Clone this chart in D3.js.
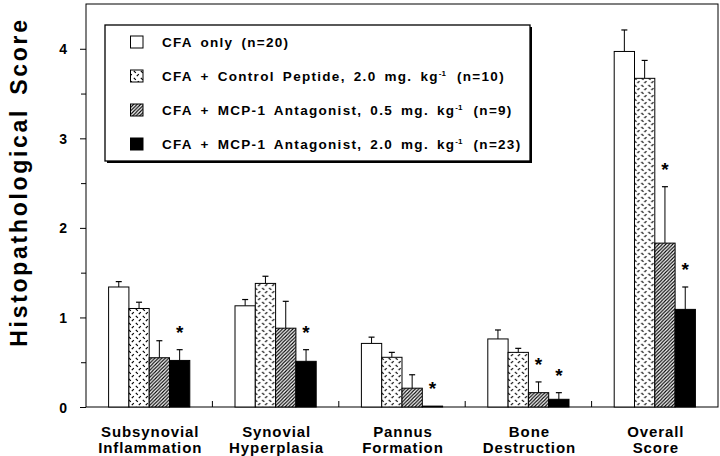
<!DOCTYPE html>
<html>
<head>
<meta charset="utf-8">
<script src="https://cdn.jsdelivr.net/npm/d3@7"></script>
<style>
  html, body { margin: 0; padding: 0; background: #fff; }
  svg { display: block; }
  text { font-family: "Liberation Sans", Arial, Helvetica, sans-serif; font-weight: bold; fill: #000; }
</style>
</head>
<body>
<svg id="chart" width="720" height="456"></svg>
<script>
// ---------- data ----------
const categories = ["Subsynovial|Inflammation", "Synovial|Hyperplasia", "Pannus|Formation", "Bone|Destruction", "Overall|Score"];
const seriesKeys = ["cfa", "control", "antag05", "antag20"];
const seriesLabels = [
  ["CFA only (n=20)", "", ""],
  ["CFA + Control Peptide, 2.0 mg. kg", "-1", " (n=10)"],
  ["CFA + MCP-1 Antagonist, 0.5 mg. kg", "-1", " (n=9)"],
  ["CFA + MCP-1 Antagonist, 2.0 mg. kg", "-1", " (n=23)"]
];
const cfaOnly        = [1.34, 1.13, 0.71, 0.76, 3.97];
const cfaOnlyErr     = [0.06, 0.07, 0.07, 0.10, 0.24];
const controlPeptide = [1.10, 1.38, 0.555, 0.61, 3.67];
const controlErr     = [0.07, 0.08, 0.055, 0.045, 0.20];
const antagonist05   = [0.55, 0.88, 0.21, 0.16, 1.83];
const antagonist05Err= [0.19, 0.30, 0.15, 0.12, 0.63];
const antagonist20   = [0.52, 0.51, 0.01, 0.086, 1.09];
const antagonist20Err= [0.12, 0.13, 0.00, 0.074, 0.25];
const significant05  = [false, false, false, true, true];
const significant20  = [true, true, true, true, true];
const yMajorTicks = [0, 1, 2, 3, 4];
const yMinorTicks = [0.5, 1.5, 2.5, 3.5];
const yTitle = "Histopathological Score";

const seriesValues = [cfaOnly, controlPeptide, antagonist05, antagonist20];
const seriesErrors = [cfaOnlyErr, controlErr, antagonist05Err, antagonist20Err];
const seriesSig = [null, null, significant05, significant20];

// ---------- layout ----------
const svg = d3.select("#chart");
const L = 86, R = 718, T = 4, B = 407;

const defs = svg.append("defs");
const pDash = defs.append("pattern").attr("id", "dash").attr("patternUnits", "userSpaceOnUse")
  .attr("width", 7).attr("height", 7);
pDash.append("rect").attr("width", 7).attr("height", 7).attr("fill", "#fff");
pDash.append("path").attr("d", "M0.8,0.8 L2.8,2.8 M3.8,6.2 L5.8,4.2")
  .attr("stroke", "#000").attr("stroke-width", 1.2).attr("fill", "none");

const pHatch = defs.append("pattern").attr("id", "hatch").attr("patternUnits", "userSpaceOnUse")
  .attr("width", 3.5).attr("height", 3.5);
pHatch.append("rect").attr("width", 3.5).attr("height", 3.5).attr("fill", "#fff");
pHatch.append("path").attr("d", "M-0.9,0.9 L0.9,-0.9 M0,3.5 L3.5,0 M2.6,4.4 L4.4,2.6")
  .attr("stroke", "#000").attr("stroke-width", 1.15).attr("fill", "none");

const fills = ["#fff", "url(#dash)", "url(#hatch)", "#000"];

const x0 = d3.scaleBand().domain(categories).range([L, R]).padding(0);
const x1 = d3.scaleBand().domain(seriesKeys).range([22.6, 103.8]).padding(0);
const y = d3.scaleLinear().domain([0, 4.5]).range([B, T]);

// frame
svg.append("rect").attr("x", L).attr("y", T).attr("width", R - L).attr("height", B - T)
  .attr("fill", "none").attr("stroke", "#000").attr("stroke-width", 1);

// y axis
const yAxis = svg.append("g").attr("transform", `translate(${L},0)`)
  .call(d3.axisLeft(y).tickValues(yMajorTicks).tickSize(6).tickPadding(13).tickFormat(d3.format("d")));
yAxis.select(".domain").remove();
yAxis.selectAll("text").style("font-size", "14px").attr("font-family", null).attr("dy", "0.36em");
yAxis.selectAll("line").attr("stroke", "#000");
const yMinor = svg.append("g").attr("transform", `translate(${L},0)`)
  .call(d3.axisLeft(y).tickValues(yMinorTicks).tickSize(5).tickFormat(""));
yMinor.select(".domain").remove();

// group separators on the x axis
svg.append("g").selectAll("line").data(categories.slice(1)).join("line")
  .attr("x1", d => x0(d)).attr("x2", d => x0(d))
  .attr("y1", B).attr("y2", B - 6).attr("stroke", "#000");

// bars
const groups = svg.append("g").selectAll("g").data(categories).join("g")
  .attr("transform", d => `translate(${x0(d)},0)`);

seriesKeys.forEach((k, si) => {
  const bw = x1.bandwidth();
  groups.each(function(cat, ci) {
    const g = d3.select(this);
    const v = seriesValues[si][ci], e = seriesErrors[si][ci];
    const bx = x1(k);
    const cx = bx + bw / 2;
    if (e > 0) {
      g.append("line").attr("x1", cx).attr("x2", cx).attr("y1", y(v)).attr("y2", y(v + e))
        .attr("stroke", "#000").attr("stroke-width", 1);
      g.append("line").attr("x1", cx - 3).attr("x2", cx + 3).attr("y1", y(v + e)).attr("y2", y(v + e))
        .attr("stroke", "#000").attr("stroke-width", 1.2);
    }
    g.append("rect").attr("x", bx).attr("y", y(v)).attr("width", bw).attr("height", y(0) - y(v))
      .attr("fill", fills[si]).attr("stroke", "#000").attr("stroke-width", 1);
    const sig = seriesSig[si];
    if (sig && sig[ci]) {
      g.append("text").attr("x", cx).attr("y", y(v + e) - 11).attr("text-anchor", "middle")
        .style("font-size", "19px").text("*");
    }
  });
});

// x labels
groups.each(function(cat) {
  const lines = cat.split("|");
  const t = d3.select(this).append("text").attr("text-anchor", "middle")
    .style("font-size", "15px").style("letter-spacing", "0.9px");
  lines.forEach((ln, i) => {
    t.append("tspan").attr("x", x0.bandwidth() / 2 + 1).attr("y", 437 + i * 16).text(ln);
  });
});

// y title
svg.append("text").attr("transform", "translate(27,182) rotate(-90)")
  .attr("text-anchor", "middle").style("font-size", "23px").style("letter-spacing", "2.7px")
  .style("word-spacing", "4px").text(yTitle);

// legend
const lg = svg.append("g");
lg.append("rect").attr("x", 107).attr("y", 27).attr("width", 425).attr("height", 136).attr("fill", "#000");
lg.append("rect").attr("x", 105).attr("y", 25).attr("width", 425).attr("height", 136)
  .attr("fill", "#fff").attr("stroke", "#000").attr("stroke-width", 1.3);
seriesLabels.forEach((lab, i) => {
  const cy = 42 + i * 34;
  lg.append("rect").attr("x", 130.5).attr("y", cy - 6).attr("width", 12.5).attr("height", 12)
    .attr("fill", fills[i]).attr("stroke", "#000").attr("stroke-width", 1);
  const t = lg.append("text").attr("x", 162).attr("y", cy + 5)
    .style("font-size", "13.5px").style("letter-spacing", "1.3px").style("word-spacing", "3px");
  t.append("tspan").text(lab[0]);
  if (lab[1]) {
    t.append("tspan").attr("dy", -5).style("font-size", "8px").style("letter-spacing", "0px").text(lab[1]);
    t.append("tspan").attr("dy", 5).attr("dx", 3).text(lab[2]);
  }
});
</script>
</body>
</html>
